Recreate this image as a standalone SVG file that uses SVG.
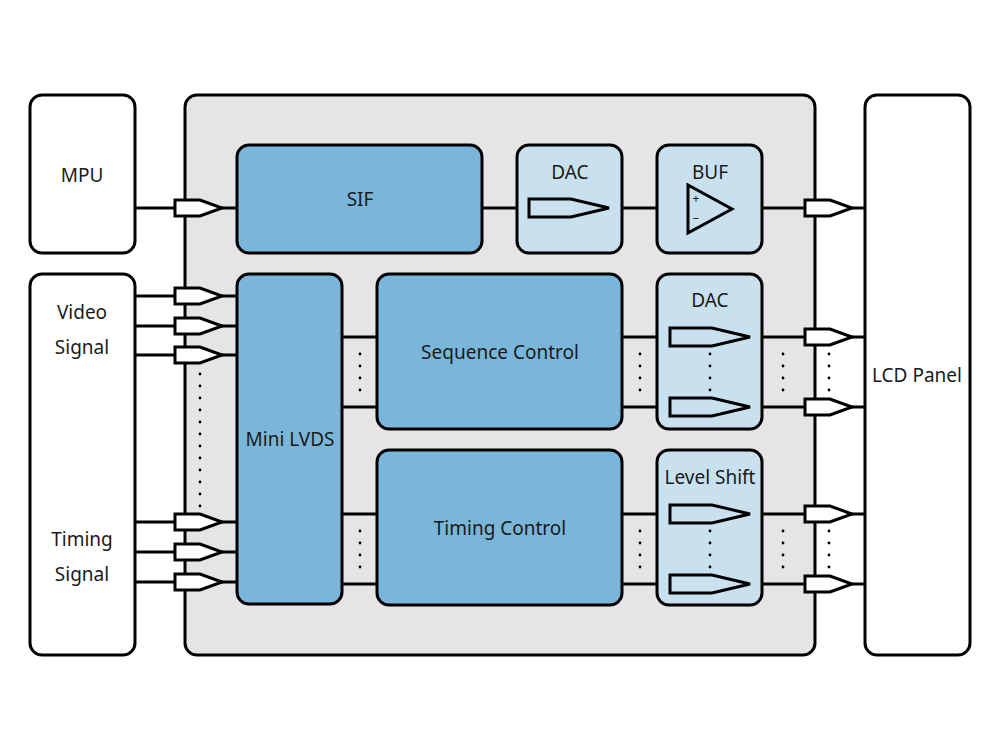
<svg xmlns="http://www.w3.org/2000/svg" width="1000" height="750" viewBox="0 0 1000 750">
<style>
.b{stroke:#000;stroke-width:3}
.w{fill:#fff}.g{fill:#e6e4e6}.d{fill:#7ab6d9}.l{fill:#c9e1ef}
text{font-family:"Noto Sans","DejaVu Sans",sans-serif;font-size:19px;fill:#1a1a1a;text-anchor:middle}
.ln{stroke:#000;stroke-width:3;fill:none}
.p{fill:#fff;stroke:#000;stroke-width:3}
.a{fill:none;stroke:#000;stroke-width:3}
</style>
<defs>
<path id="pin" d="M0,-8 H25 L47,0 L25,8 H0 Z" class="p"/>
<path id="amp" d="M0,-9 H42 L80,0 L42,9 H0 Z" class="a"/>
<g id="vd"><circle cx="0" cy="0" r="1.4"/><circle cx="0" cy="12" r="1.4"/><circle cx="0" cy="24" r="1.4"/><circle cx="0" cy="36" r="1.4"/></g>
</defs>
<g id="chip"><rect x="185" y="95" width="630" height="560" rx="12" class="b g"/></g>
<g id="mpu"><rect x="30" y="95" width="105" height="158" rx="12" class="b w"/><text x="82" y="182">MPU</text></g>
<g id="sig"><rect x="30" y="274" width="105" height="381" rx="12" class="b w"/><text x="82" y="319">Video</text><text x="82" y="354">Signal</text><text x="82" y="546">Timing</text><text x="82" y="581">Signal</text></g>
<g id="lcd"><rect x="865" y="95" width="105" height="560" rx="12" class="b w"/><text x="917" y="382">LCD Panel</text></g>
<g id="connectors">
<path class="ln" d="M135,208H237M482,208H657M732,209H745M762,208H865M135,296H237M135,326H237M135,355H237M135,522H237M135,552H237M135,582H237M342,337H377M342,407H377M622,337H865M622,407H865M342,514H377M342,584H377M622,514H865M622,584H865M672,199H688M672,218H688"/>
</g>
<g id="sif"><rect x="237" y="145" width="245" height="108" rx="12" class="b d"/><text x="360" y="206">SIF</text></g>
<g id="dac1"><rect x="517" y="145" width="105" height="108" rx="12" class="b l"/><text x="570" y="179">DAC</text><use href="#amp" x="529" y="208"/></g>
<g id="buf"><rect x="657" y="145" width="105" height="108" rx="12" class="b l"/><text x="710" y="179">BUF</text>
<path d="M688,185 L688,233 L732,209 Z" class="a"/><text x="696" y="203" style="font-size:12px">+</text><text x="696" y="223" style="font-size:12px">−</text></g>
<g id="lvds"><rect x="237" y="274" width="105" height="330" rx="12" class="b d"/><text x="290" y="446">Mini LVDS</text></g>
<g id="seq"><rect x="377" y="274" width="245" height="155" rx="12" class="b d"/><text x="500" y="359">Sequence Control</text></g>
<g id="tim"><rect x="377" y="450" width="245" height="155" rx="12" class="b d"/><text x="500" y="535">Timing Control</text></g>
<g id="dac2"><rect x="657" y="274" width="105" height="155" rx="12" class="b l"/><text x="710" y="307">DAC</text><use href="#amp" x="670" y="337"/><use href="#amp" x="670" y="407"/></g>
<g id="ls"><rect x="657" y="450" width="105" height="155" rx="12" class="b l"/><text x="710" y="484">Level Shift</text><use href="#amp" x="670" y="514"/><use href="#amp" x="670" y="584"/></g>
<g id="pins">
<use href="#pin" x="175" y="208"/><use href="#pin" x="805" y="208"/>
<use href="#pin" x="175" y="296"/><use href="#pin" x="175" y="326"/><use href="#pin" x="175" y="355"/>
<use href="#pin" x="175" y="522"/><use href="#pin" x="175" y="552"/><use href="#pin" x="175" y="582"/>
<use href="#pin" x="805" y="337"/><use href="#pin" x="805" y="407"/><use href="#pin" x="805" y="514"/><use href="#pin" x="805" y="584"/>
</g>
<g id="dots">
<use href="#vd" x="200" y="374"/><use href="#vd" x="200" y="422"/><use href="#vd" x="200" y="470"/>
<use href="#vd" x="360" y="354"/><use href="#vd" x="640" y="354"/><use href="#vd" x="710" y="354"/><use href="#vd" x="783" y="354"/><use href="#vd" x="829" y="354"/>
<use href="#vd" x="360" y="531"/><use href="#vd" x="640" y="531"/><use href="#vd" x="710" y="531"/><use href="#vd" x="783" y="531"/><use href="#vd" x="829" y="531"/>
</g>
</svg>
